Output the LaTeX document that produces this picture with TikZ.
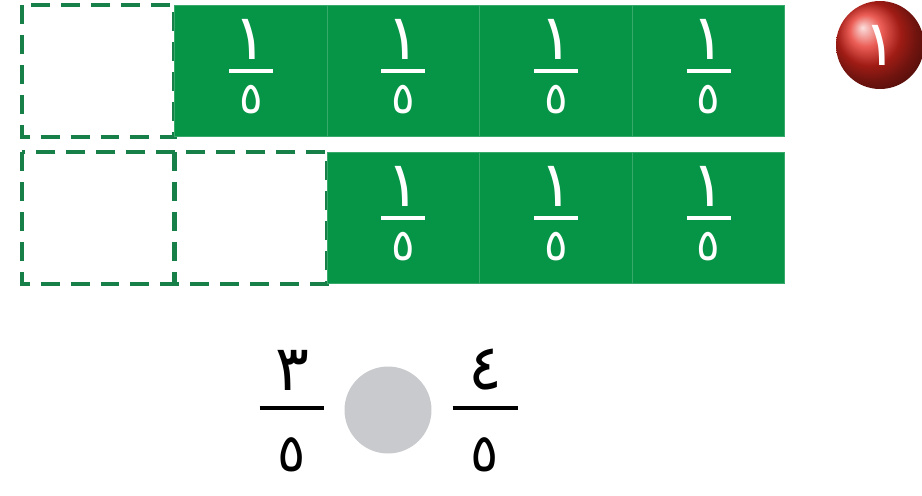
\documentclass[tikz,border=0pt]{standalone}
\usepackage{fontspec}
\newfontfamily\arabicfont[Script=Arabic]{DejaVu Sans}
\TeXXeTstate=1
\usepackage{tikz}
\usetikzlibrary{positioning}
\definecolor{fracgreen}{RGB}{6,148,70}
\definecolor{dashgreen}{RGB}{22,128,72}
\definecolor{ballred}{RGB}{228,40,30}
\definecolor{cmpgray}{RGB}{200,202,205}

\begin{document}
\begin{tikzpicture}[x=0.02cm, y=-0.02cm,
    cell/.style={rectangle, minimum width=3.052cm, minimum height=2.63cm, inner sep=0pt, outer sep=0pt},
    fullcell/.style={cell, fill=fracgreen, draw=fracgreen!80!white, line width=0.5pt},
    dashline/.style={draw=dashgreen, line width=2.4pt, dash pattern=on 0.38cm off 0.22cm},
    numdigit/.style={font=\arabicfont\fontsize{36}{38}\selectfont, inner sep=0pt},
    dendigit/.style={font=\arabicfont\fontsize{25}{28}\selectfont, inner sep=0pt},
    bigdigit/.style={font=\arabicfont\fontsize{36}{38}\selectfont, inner sep=0pt},
    bigden/.style={font=\arabicfont\fontsize{30}{32}\selectfont, inner sep=0pt}]
    \useasboundingbox (0,0) rectangle (922,495);

    % first row
    \node[cell] (t1) at (98.3,71) {};
    \draw[dashline] (t1.north west) rectangle (t1.south east);
    \node[fullcell, right=0pt of t1] (t2) {};
    \node[fullcell, right=0pt of t2] (t3) {};
    \node[fullcell, right=0pt of t3] (t4) {};
    \node[fullcell, right=0pt of t4] (t5) {};

    % second row
    \node[cell] (b1) at (98.3,218) {};
    \node[cell, right=0pt of b1] (b2) {};
    \draw[dashline] (b1.north west) rectangle (b2.south east);
    \draw[dashline] (b1.north east) -- (b1.south east);
    \node[fullcell, right=0pt of b2] (b3) {};
    \node[fullcell, right=0pt of b3] (b4) {};
    \node[fullcell, right=0pt of b4] (b5) {};

    \foreach \c in {t2,t3,t4,t5,b3,b4,b5} {
        \draw[white, line width=2.4pt] ([xshift=-0.44cm]\c.center) -- ([xshift=0.44cm]\c.center);
        \node[numdigit, white] (\c-n) at ([yshift=0.64cm]\c.center) {\beginR ١\endR};
        \node[dendigit, white] (\c-d) at ([yshift=-0.58cm]\c.center) {\beginR ٥\endR};
    }

    % exercise number
    \node[circle, shading=ball, ball color=ballred, minimum size=1.76cm, inner sep=0pt,
        text=white, numdigit] (ex) at (880,45) {\beginR ١\endR};

    % compare
    \coordinate (lbar) at (292,408);
    \coordinate (rbar) at (485,408);
    \draw[line width=2.4pt] ([xshift=-0.65cm]lbar) -- ([xshift=0.65cm]lbar);
    \node[bigdigit] (l-n) at (292,370) {\beginR ٣\endR};
    \node[bigden] (l-d) at (292,455) {\beginR ٥\endR};
    \node[circle, fill=cmpgray, minimum size=1.74cm, inner sep=0pt] (cmp) at (388,410) {};
    \draw[line width=2.4pt] ([xshift=-0.65cm]rbar) -- ([xshift=0.65cm]rbar);
    \node[bigdigit] (r-n) at (485,370) {\beginR ٤\endR};
    \node[bigden] (r-d) at (485,455) {\beginR ٥\endR};
\end{tikzpicture}
\end{document}
